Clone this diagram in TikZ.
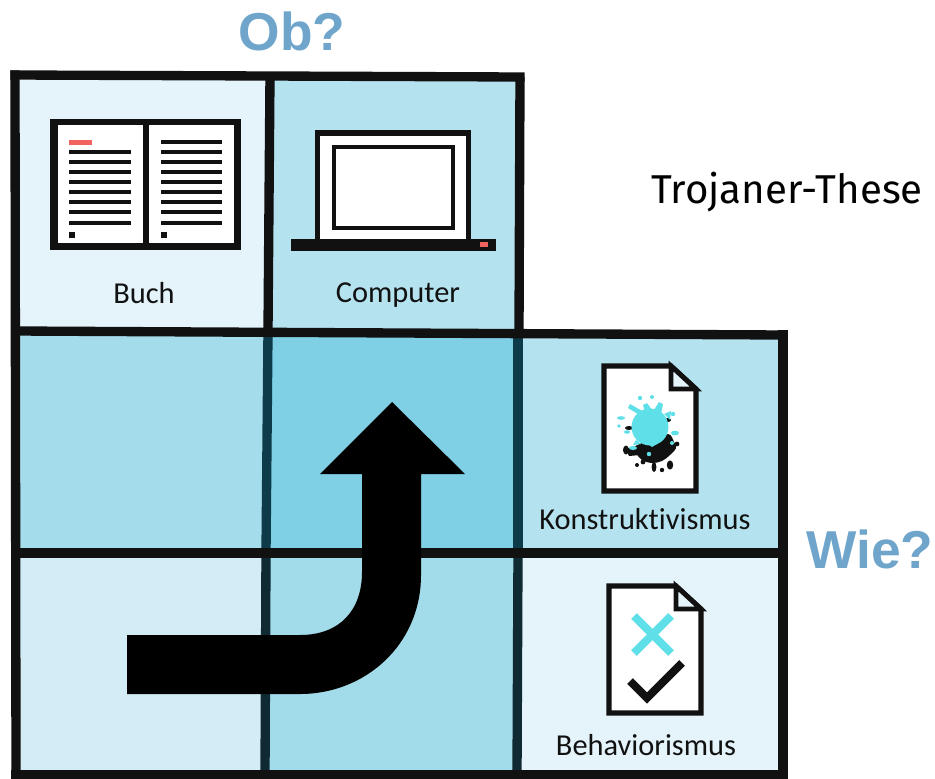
\documentclass[tikz,border=0pt]{standalone}
\usepackage{fontspec}
\setmainfont{Carlito}[Ligatures=NoCommon]
\newfontfamily\headfont{Liberation Sans}[Scale=1]
\newfontfamily\titlefont{Fira Sans}
\definecolor{ink}{HTML}{111111}
\definecolor{paleblue}{HTML}{E4F4FA}
\definecolor{lightblue}{HTML}{B5E2EF}
\definecolor{softblue}{HTML}{D2EDF5}
\definecolor{midblue}{HTML}{A2DBEA}
\definecolor{deepblue}{HTML}{7FCFE5}
\definecolor{headblue}{HTML}{6FA5CB}
\definecolor{splash}{HTML}{5FE0E8}
\definecolor{redmark}{HTML}{F0635F}
\definecolor{tealline}{HTML}{0E3B49}
\tikzset{
  gridline/.style={draw=ink,line width=7pt,line cap=rect},
  innerline/.style={draw=tealline,line width=7pt},
  celllabel/.style={font=\fontsize{22.8}{26}\selectfont,text=ink,inner sep=0pt,anchor=base},
  headlabel/.style={font=\headfont\bfseries\fontsize{40}{44}\selectfont,text=headblue,inner sep=0pt,anchor=base},
  iconline/.style={draw=ink,line width=3.6pt},
  docframe/.style={draw=ink,line width=3.8pt,fill=white,line join=miter},
  textrow/.style={draw=ink,line width=2.6pt},
  textrowthick/.style={draw=ink,line width=3.7pt},
}
\newcommand{\docicon}[4]{%
  \draw[docframe] (#1,#2) -- ({#3-25},#2) -- (#3,{#2+23}) -- (#3,#4) -- (#1,#4) -- cycle;
  \draw[iconline,fill=paleblue,line join=miter] ({#3-25},#2) -- ({#3-25},{#2+23}) -- (#3,{#2+23}) -- cycle;
}
\begin{document}
\begin{tikzpicture}[x=0.75pt,y=-0.75pt]
\useasboundingbox (0,0) rectangle (935,778);
% cell fills
\fill[paleblue] (14,76) rectangle (270,331);
\fill[lightblue] (270,76) rectangle (519,331);
\fill[midblue!85!lightblue] (14,331) rectangle (266,553);
\fill[deepblue] (266,331) rectangle (519,553);
\fill[lightblue] (519,331) rectangle (783,553);
\fill[softblue] (14,553) rectangle (266,775);
\fill[midblue] (266,553) rectangle (519,775);
\fill[paleblue] (519,553) rectangle (783,775);
% inner verticals of the lower rows
\draw[innerline] (268,331) -- (266,553);
\draw[innerline] (518,331) -- (518,553);
\draw[innerline,draw=tealline!60!ink] (266,553) -- (265,775);
\draw[innerline,draw=tealline!60!ink] (518,553) -- (517,775);
% grid
\draw[gridline,line cap=butt] (270,75) -- (268,331);
\draw[gridline] (15,75) -- (520,77);
\draw[gridline] (15,75) -- (16,775);
\draw[gridline,line cap=butt] (520,77) -- (519,331);
\draw[gridline] (16,331) -- (783,335);
\draw[gridline] (16,553) -- (783,553);
\draw[gridline] (783,335) -- (783,775);
\draw[gridline] (16,775) -- (783,775);
% arrow
\fill[black] (127,635) -- (300,635) .. controls (340,635) and (362,610) .. (362,572)
  -- (362,474) -- (320,474) -- (392,402) -- (465,474) -- (421,474) -- (421,575)
  .. controls (421,645) and (365,694) .. (300,694) -- (127,694) -- cycle;
% book
\fill[ink] (50,119) rectangle (241,250);
\fill[white] (58,125) rectangle (143,243);
\fill[white] (149,125) rectangle (234,243);
\fill[redmark] (69,139.5) rectangle (92,145);
\draw[textrowthick] (161,142) -- (222,142);
\foreach \x/\y in {69/131,161/222}{
  \foreach \r in {152,172,192,212,223}{\draw[textrow] (\x,\r) -- (\y,\r);}
  \foreach \r in {162,182,202}{\draw[textrowthick] (\x,\r) -- (\y,\r);}
}
\fill[ink] (69,232) rectangle (74.5,237.5);
\fill[ink] (161,232) rectangle (166.5,237.5);
% laptop
\fill[ink] (315,129.5) rectangle (471,240);
\fill[white] (320,136) rectangle (466,240);
\draw[draw=ink,line width=3pt,fill=white] (334,147) rectangle (453,228);
\fill[ink] (291,239) rectangle (496,251);
\fill[redmark] (480,242) rectangle (488,247);
% splash document
\docicon{604}{366}{696}{491}
% black splash underneath
\fill[ink] plot[smooth cycle,tension=0.6] coordinates {(634,447)(650,440)(668,434)(674,442)(676,448)(670,455)(662,461)(652,463)(642,460)(636,453)};
\fill[ink] (626,450) ellipse (3 and 4.5);
\fill[ink] (625,448) -- (640,448) -- (640,455) -- (629,456) -- cycle;
\fill[ink] (637,465) circle (2);
\fill[ink] (654,467) ellipse (2.4 and 5);
\fill[ink] (670,465) ellipse (3.2 and 4.6);
\fill[ink] (662,470) circle (2.2);
\fill[ink] (643,462) circle (2.4);
\fill[ink] (677,444) circle (2.4);
\fill[ink] (629,428) ellipse (4 and 2);
\fill[ink] (668,420) ellipse (3 and 2);
% cyan splash on top
\fill[splash] (650,427) circle (18.5);
\fill[splash] (638,414) -- (628,408) -- (630,404) -- (644,412) -- cycle;
\fill[splash] (645,412) -- (643,405) -- (647,403) -- (652,410) -- cycle;
\fill[splash] (654,410) -- (659,402) -- (663,404) -- (661,414) -- cycle;
\fill[splash] (664,414) -- (671,411) -- (670,420) -- cycle;
\fill[splash] (636,440) -- (633,445) -- (641,444) -- cycle;
\fill[splash] (648,444) -- (652,447) -- (657,444) -- cycle;
\fill[splash] (640,398) circle (2.2);
\fill[splash] (652,397) circle (2);
\fill[splash] (621,418) ellipse (4 and 1.8);
\fill[splash] (619,426) circle (1.8);
\fill[splash] (627,432) ellipse (3 and 1.8);
\fill[splash] (673,414) circle (2.2);
\fill[splash] (675,433) ellipse (4 and 2.4);
\fill[splash] (649,454) circle (2.2);
\fill[splash] (633,448) ellipse (4 and 2);
\fill[splash] (672,443) circle (2);
% behaviorism document
\docicon{609}{586}{701}{713}
\draw[draw=splash,line width=6pt] (634,616) -- (671,653);
\draw[draw=splash,line width=6pt] (671,616) -- (634,653);
\draw[draw=ink,line width=6pt,line join=miter] (630,681) -- (647,698) -- (682,663);
% labels
\node[celllabel] (buch) at (144,303) {Buch};
\node[celllabel] (computer) at (398,302) {Computer};
\node[celllabel] (konstr) at (645,529) {Konstruktivismus};
\node[celllabel] (behav) at (646,755) {Behaviorismus};
\node[inner sep=0pt,anchor=base,text=black,font=\titlefont\fontsize{30.2}{34}\selectfont] (title) at (787,203) {Trojaner-These};
\node[headlabel] (ob) at (292,50) {Ob?};
\node[headlabel] (wie) at (870,568) {Wie?};
\end{tikzpicture}
\end{document}
